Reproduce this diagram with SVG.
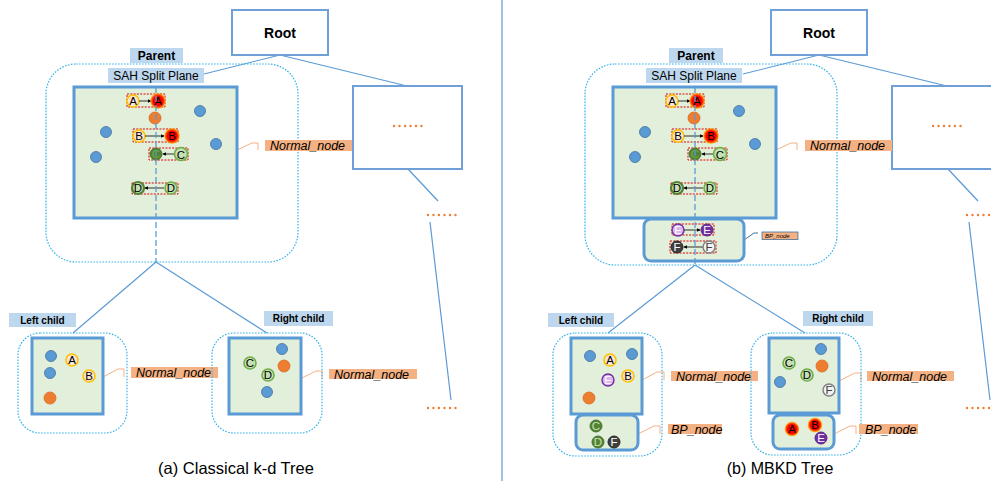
<svg xmlns="http://www.w3.org/2000/svg" width="991" height="481" viewBox="0 0 991 481">
<defs>
<radialGradient id="glow">
<stop offset="0" stop-color="#ff0000"/>
<stop offset="0.6" stop-color="#ff0000"/>
<stop offset="0.8" stop-color="#ff5a00"/>
<stop offset="1" stop-color="#ffc000" stop-opacity="0.5"/>
</radialGradient>
<marker id="ah" viewBox="0 0 6 6" refX="5" refY="3" markerWidth="5" markerHeight="5" orient="auto">
<path d="M0,0 L6,3 L0,6 z" fill="#000"/>
</marker>
</defs>
<style>
.t{font-family:"Liberation Sans",Arial,sans-serif;fill:#000}
.b{font-weight:bold}
.i{font-style:italic}
.dot{fill:none;stroke:#35b3ea;stroke-width:1.2;stroke-dasharray:1.6 1.4}
.node{fill:#e2efda;stroke:#5b9bd5;stroke-width:3}
.lbl{fill:#bdd7ee}
.box{fill:#fff;stroke:#6fa0d8;stroke-width:2}
.conn{stroke:#5b9bd5;stroke-width:1.2;fill:none}
.dash{stroke:#5b9bd5;stroke-width:1.3;stroke-dasharray:6 3;fill:none}
.call{stroke:#f4b183;stroke-width:1;fill:none}
.nn{fill:#f4b183}
.row{fill:none;stroke:#e00000;stroke-width:1;stroke-dasharray:2 1.3}
.arr{stroke:#000;stroke-width:0.8;fill:none;marker-end:url(#ah)}
.blue{fill:#5b9bd5;stroke:#41719c;stroke-width:0.8}
.org{fill:#ed7d31;stroke:#d86a20;stroke-width:0.8}
.yel{fill:#fbe5d6;stroke:#ffc000;stroke-width:1.6}
.red{fill:url(#glow)}
.lg{fill:#c5e0b4;stroke:#70ad47;stroke-width:1.6}
.dgr{fill:#c5e0b4;stroke:#548235;stroke-width:2.2}
.dg{fill:#548235;stroke:#4a7530;stroke-width:1}
.lp{fill:#dcb5f0;stroke:#7030a0;stroke-width:1.4}
.dp{fill:#7030a0;stroke:#5c2584;stroke-width:1}
.dk{fill:#404040;stroke:#262626;stroke-width:1}
.lgy{fill:#f2f2f2;stroke:#7f7f7f;stroke-width:1.4}
.orng{fill:#ed7d31}
.L{font-family:"Liberation Sans",Arial,sans-serif;font-size:11.5px;text-anchor:middle}
.sep{stroke:#9dc3e6;stroke-width:2}
</style>

<line class="sep" x1="502" y1="0" x2="502" y2="481"/>

<g id="connectors">
<line class="conn" x1="280" y1="55" x2="204" y2="74"/>
<line class="conn" x1="280" y1="55" x2="407" y2="86"/>
<line class="conn" x1="408" y1="169" x2="438" y2="201"/>
<line class="conn" x1="430" y1="222" x2="451" y2="400"/>
<line class="conn" x1="156" y1="262" x2="73" y2="333"/>
<line class="conn" x1="156" y1="262" x2="267" y2="333"/>
<line class="conn" x1="819" y1="55" x2="743" y2="74"/>
<line class="conn" x1="819" y1="55" x2="947" y2="86"/>
<line class="conn" x1="948" y1="169" x2="978" y2="201"/>
<line class="conn" x1="969" y1="222" x2="990" y2="400"/>
<line class="conn" x1="695" y1="265" x2="608" y2="333"/>
<line class="conn" x1="695" y1="265" x2="805" y2="333"/>
<polyline class="call" points="237,150 252,143 258,143"/><line class="call" x1="258" y1="143" x2="258" y2="150"/>
<polyline class="call" points="776,150 791,143 797,143"/><line class="call" x1="797" y1="143" x2="797" y2="150"/>
<polyline class="call" points="103,377 118,369 124,369"/><line class="call" x1="124" y1="369" x2="124" y2="377"/>
<polyline class="call" points="300,379 316,371 322,371"/><line class="call" x1="322" y1="371" x2="322" y2="379"/>
<polyline class="call" points="642,380 657,372 664,372"/><line class="call" x1="664" y1="372" x2="664" y2="380"/>
<polyline class="call" points="638,434 654,426 660,426"/><line class="call" x1="660" y1="426" x2="660" y2="434"/>
<polyline class="call" points="839,381 855,373 861,373"/><line class="call" x1="861" y1="373" x2="861" y2="381"/>
<polyline class="call" points="834,434 850,426 856,426"/><line class="call" x1="856" y1="426" x2="856" y2="434"/>
<polyline points="744,240 754,233 758,233" fill="none" stroke="#41719c" stroke-width="1"/>
</g>

<!-- ===== Panel (a) ===== -->
<g id="a-root">
<rect class="box" x="232" y="10" width="96" height="45"/>
<text class="t b" x="280" y="38" font-size="14" text-anchor="middle">Root</text>
</g>

<g id="a-other">
<rect class="box" x="353" y="86" width="109" height="83"/>
<g class="orng"><circle cx="394" cy="126" r="1.2"/><circle cx="399.5" cy="126" r="1.2"/><circle cx="405" cy="126" r="1.2"/><circle cx="410.5" cy="126" r="1.2"/><circle cx="416" cy="126" r="1.2"/><circle cx="421.5" cy="126" r="1.2"/></g>
<g class="orng"><circle cx="428" cy="215" r="1.2"/><circle cx="433.5" cy="215" r="1.2"/><circle cx="439" cy="215" r="1.2"/><circle cx="444.5" cy="215" r="1.2"/><circle cx="450" cy="215" r="1.2"/><circle cx="455.5" cy="215" r="1.2"/></g>
<g class="orng"><circle cx="428" cy="408" r="1.2"/><circle cx="433.5" cy="408" r="1.2"/><circle cx="439" cy="408" r="1.2"/><circle cx="444.5" cy="408" r="1.2"/><circle cx="450" cy="408" r="1.2"/><circle cx="455.5" cy="408" r="1.2"/></g>
</g>

<g id="a-parent">
<rect class="dot" x="46" y="64" width="252" height="198" rx="30"/>
<rect class="lbl" x="130" y="48" width="53" height="15"/>
<text class="t b" x="156.5" y="60" font-size="12" text-anchor="middle">Parent</text>
<rect class="lbl" x="108" y="68" width="96" height="15"/>
<text class="t" x="156" y="80" font-size="12" text-anchor="middle">SAH Split Plane</text>
<rect class="node" x="74" y="87" width="163" height="131"/>
<circle class="blue" cx="200" cy="111" r="5.5"/>
<circle class="blue" cx="106" cy="132" r="5.5"/>
<circle class="blue" cx="96" cy="157" r="5.5"/>
<circle class="blue" cx="216" cy="144" r="5.5"/>
<circle class="org" cx="155" cy="118" r="6"/>
<rect class="row" x="127" y="94" width="38" height="13"/>
<circle class="yel" cx="133" cy="101" r="6"/><text class="L" x="133" y="105">A</text>
<line class="arr" x1="139" y1="101" x2="151" y2="101"/>
<circle class="red" cx="158" cy="101" r="8"/><text class="L" x="158" y="105">A</text>
<rect class="row" x="133" y="129" width="45" height="13"/>
<circle class="yel" cx="139" cy="136" r="6"/><text class="L" x="139" y="140">B</text>
<line class="arr" x1="145" y1="136" x2="164" y2="136"/>
<circle class="red" cx="172" cy="136" r="8"/><text class="L" x="172" y="140">B</text>
<rect class="row" x="149" y="148" width="39" height="12"/>
<circle class="dg" cx="156" cy="154" r="6"/><text class="L" x="156" y="158" fill="#70ad47">C</text>
<line class="arr" x1="174" y1="154" x2="163" y2="154"/>
<circle class="lg" cx="181" cy="154" r="6.5"/><text class="L" x="181" y="158.5" font-size="13">C</text>
<rect class="row" x="132" y="183" width="46" height="11"/>
<circle class="dgr" cx="138" cy="188" r="6"/><text class="L" x="138" y="192">D</text>
<line class="arr" x1="164" y1="188" x2="145" y2="188"/>
<circle class="lg" cx="171" cy="188" r="6"/><text class="L" x="171" y="192">D</text>
<line class="dash" x1="156" y1="87" x2="156" y2="262"/>
<rect class="nn" x="265" y="140" width="87" height="11"/>
<text class="t i" x="270" y="150" font-size="12.5">Normal_node</text>
</g>

<g id="a-left">
<rect class="lbl" x="9" y="313" width="67" height="14"/>
<text class="t b" x="42.5" y="324" font-size="10" text-anchor="middle">Left child</text>
<rect class="dot" x="18" y="333" width="109" height="100" rx="22"/>
<rect class="node" x="32" y="338" width="71" height="76"/>
<circle class="blue" cx="51" cy="356" r="5.5"/>
<circle class="blue" cx="50" cy="373" r="5.5"/>
<circle class="yel" cx="72" cy="360" r="6"/><text class="L" x="72" y="364">A</text>
<circle class="yel" cx="89" cy="376" r="6"/><text class="L" x="89" y="380">B</text>
<circle class="org" cx="50" cy="398" r="6"/>
<rect class="nn" x="131" y="367" width="87" height="11"/>
<text class="t i" x="136" y="377" font-size="12.5">Normal_node</text>
</g>

<g id="a-right">
<rect class="lbl" x="264" y="311" width="69" height="15"/>
<text class="t b" x="298.5" y="322" font-size="10" text-anchor="middle">Right child</text>
<rect class="dot" x="212" y="333" width="110" height="100" rx="22"/>
<rect class="node" x="229" y="338" width="72" height="76"/>
<circle class="blue" cx="282" cy="349" r="5.5"/>
<circle class="org" cx="284" cy="366" r="6"/>
<circle class="lg" cx="250" cy="363" r="6"/><text class="L" x="250" y="367">C</text>
<circle class="lg" cx="268" cy="375" r="6"/><text class="L" x="268" y="379">D</text>
<circle class="blue" cx="267" cy="392" r="5.5"/>
<rect class="nn" x="329" y="369" width="88" height="10"/>
<text class="t i" x="334" y="379" font-size="12.5">Normal_node</text>
</g>

<text class="t" x="236" y="474" font-size="16.5" text-anchor="middle" fill="#222">(a) Classical k-d Tree</text>

<!-- ===== Panel (b) ===== -->
<g id="b-root">
<rect class="box" x="771" y="10" width="96" height="45"/>
<text class="t b" x="819" y="38" font-size="14" text-anchor="middle">Root</text>
</g>

<g id="b-other">
<rect class="box" x="892" y="86" width="110" height="83"/>
<g class="orng"><circle cx="933" cy="126" r="1.2"/><circle cx="938.5" cy="126" r="1.2"/><circle cx="944" cy="126" r="1.2"/><circle cx="949.5" cy="126" r="1.2"/><circle cx="955" cy="126" r="1.2"/><circle cx="960.5" cy="126" r="1.2"/></g>
<g class="orng"><circle cx="967" cy="215" r="1.2"/><circle cx="972.5" cy="215" r="1.2"/><circle cx="978" cy="215" r="1.2"/><circle cx="983.5" cy="215" r="1.2"/><circle cx="989" cy="215" r="1.2"/></g>
<g class="orng"><circle cx="967" cy="408" r="1.2"/><circle cx="972.5" cy="408" r="1.2"/><circle cx="978" cy="408" r="1.2"/><circle cx="983.5" cy="408" r="1.2"/><circle cx="989" cy="408" r="1.2"/></g>
</g>

<g id="b-parent">
<rect class="dot" x="585" y="64" width="252" height="201" rx="30"/>
<rect class="lbl" x="669" y="48" width="54" height="15"/>
<text class="t b" x="696" y="60" font-size="12" text-anchor="middle">Parent</text>
<rect class="lbl" x="646" y="68" width="96" height="15"/>
<text class="t" x="694" y="80" font-size="12" text-anchor="middle">SAH Split Plane</text>
<rect class="node" x="613" y="87" width="163" height="131"/>
<circle class="blue" cx="739" cy="111" r="5.5"/>
<circle class="blue" cx="645" cy="132" r="5.5"/>
<circle class="blue" cx="635" cy="157" r="5.5"/>
<circle class="blue" cx="755" cy="144" r="5.5"/>
<circle class="org" cx="694" cy="118" r="6"/>
<rect class="row" x="666" y="94" width="38" height="13"/>
<circle class="yel" cx="672" cy="101" r="6"/><text class="L" x="672" y="105">A</text>
<line class="arr" x1="678" y1="101" x2="690" y2="101"/>
<circle class="red" cx="697" cy="101" r="8"/><text class="L" x="697" y="105">A</text>
<rect class="row" x="672" y="129" width="45" height="13"/>
<circle class="yel" cx="678" cy="136" r="6"/><text class="L" x="678" y="140">B</text>
<line class="arr" x1="684" y1="136" x2="703" y2="136"/>
<circle class="red" cx="711" cy="136" r="8"/><text class="L" x="711" y="140">B</text>
<rect class="row" x="688" y="148" width="39" height="12"/>
<circle class="dg" cx="695" cy="154" r="6"/><text class="L" x="695" y="158" fill="#70ad47">C</text>
<line class="arr" x1="713" y1="154" x2="702" y2="154"/>
<circle class="lg" cx="720" cy="154" r="6.5"/><text class="L" x="720" y="158.5" font-size="13">C</text>
<rect class="row" x="671" y="183" width="46" height="11"/>
<circle class="dgr" cx="677" cy="188" r="6"/><text class="L" x="677" y="192">D</text>
<line class="arr" x1="703" y1="188" x2="684" y2="188"/>
<circle class="lg" cx="710" cy="188" r="6"/><text class="L" x="710" y="192">D</text>
<rect class="node" x="644" y="219" width="100" height="42" rx="7"/>
<rect class="row" x="672" y="224" width="42" height="11"/>
<circle class="lp" cx="678" cy="230" r="6"/><text class="L" x="678" y="234" fill="#fff">E</text>
<line class="arr" x1="684" y1="230" x2="700" y2="230"/>
<circle class="dp" cx="707" cy="230" r="6"/><text class="L" x="707" y="234" fill="#fff">E</text>
<rect class="row" x="670" y="241" width="46" height="12"/>
<circle class="dk" cx="677" cy="247" r="6"/><text class="L" x="677" y="251" fill="#fff">F</text>
<line class="arr" x1="703" y1="247" x2="684" y2="247"/>
<circle class="lgy" cx="709" cy="247" r="6"/><text class="L" x="709" y="251" fill="#404040">F</text>
<line class="dash" x1="695" y1="87" x2="695" y2="265"/>
<rect class="nn" x="805" y="140" width="87" height="11"/>
<text class="t i" x="810" y="150" font-size="12.5">Normal_node</text>
<rect x="762" y="232" width="36" height="7.5" fill="#f4b183" stroke="#41719c" stroke-width="0.8"/>
<text class="t i" x="765" y="238.3" font-size="6">BP_node</text>
</g>

<g id="b-left">
<rect class="lbl" x="548" y="313" width="66" height="14"/>
<text class="t b" x="581" y="324" font-size="10" text-anchor="middle">Left child</text>
<rect class="dot" x="553" y="333" width="109" height="123" rx="22"/>
<rect class="node" x="571" y="338" width="71" height="76"/>
<circle class="blue" cx="590" cy="356" r="5.5"/>
<circle class="yel" cx="610" cy="360" r="6"/><text class="L" x="610" y="364">A</text>
<circle class="blue" cx="632" cy="354" r="5.5"/>
<circle class="yel" cx="628" cy="376" r="6"/><text class="L" x="628" y="380">B</text>
<circle class="lp" cx="608" cy="380" r="6"/><text class="L" x="608" y="384" fill="#fff">E</text>
<circle class="org" cx="589" cy="398" r="6"/>
<rect class="node" x="576" y="415" width="62" height="35" rx="7"/>
<circle class="dg" cx="596" cy="426" r="6"/><text class="L" x="596" y="430" fill="#c5e0b4">C</text>
<circle class="dg" cx="598" cy="442" r="6"/><text class="L" x="598" y="446" fill="#c5e0b4">D</text>
<circle class="dk" cx="614" cy="442" r="6"/><text class="L" x="614" y="446" fill="#fff">F</text>
<rect class="nn" x="671" y="371" width="87" height="10"/>
<text class="t i" x="676" y="381" font-size="12.5">Normal_node</text>
<rect class="nn" x="668" y="424" width="54" height="10"/>
<text class="t i" x="671" y="434" font-size="12.5">BP_node</text>
</g>

<g id="b-right">
<rect class="lbl" x="803" y="311" width="70" height="15"/>
<text class="t b" x="838" y="322" font-size="10" text-anchor="middle">Right child</text>
<rect class="dot" x="751" y="333" width="110" height="122" rx="22"/>
<rect class="node" x="769" y="338" width="70" height="75"/>
<circle class="blue" cx="821" cy="349" r="5.5"/>
<circle class="org" cx="822" cy="366" r="6"/>
<circle class="lg" cx="789" cy="363" r="6"/><text class="L" x="789" y="367">C</text>
<circle class="lg" cx="807" cy="375" r="6"/><text class="L" x="807" y="379">D</text>
<circle class="blue" cx="780" cy="382" r="5.5"/>
<circle class="lgy" cx="829" cy="390" r="6"/><text class="L" x="829" y="394" fill="#404040">F</text>
<rect class="node" x="773" y="415" width="61" height="34" rx="7"/>
<circle class="red" cx="792" cy="429" r="7.5"/><text class="L" x="792" y="433">A</text>
<circle class="red" cx="815" cy="425" r="7.5"/><text class="L" x="815" y="429">B</text>
<circle class="dp" cx="821" cy="438" r="6"/><text class="L" x="821" y="442" fill="#fff">E</text>
<rect class="nn" x="867" y="371" width="87" height="10"/>
<text class="t i" x="872" y="381" font-size="12.5">Normal_node</text>
<rect class="nn" x="859" y="424" width="59" height="10"/>
<text class="t i" x="865" y="434" font-size="12.5">BP_node</text>
</g>

<text class="t" x="780" y="474" font-size="16" text-anchor="middle" fill="#222">(b) MBKD Tree</text>
</svg>
